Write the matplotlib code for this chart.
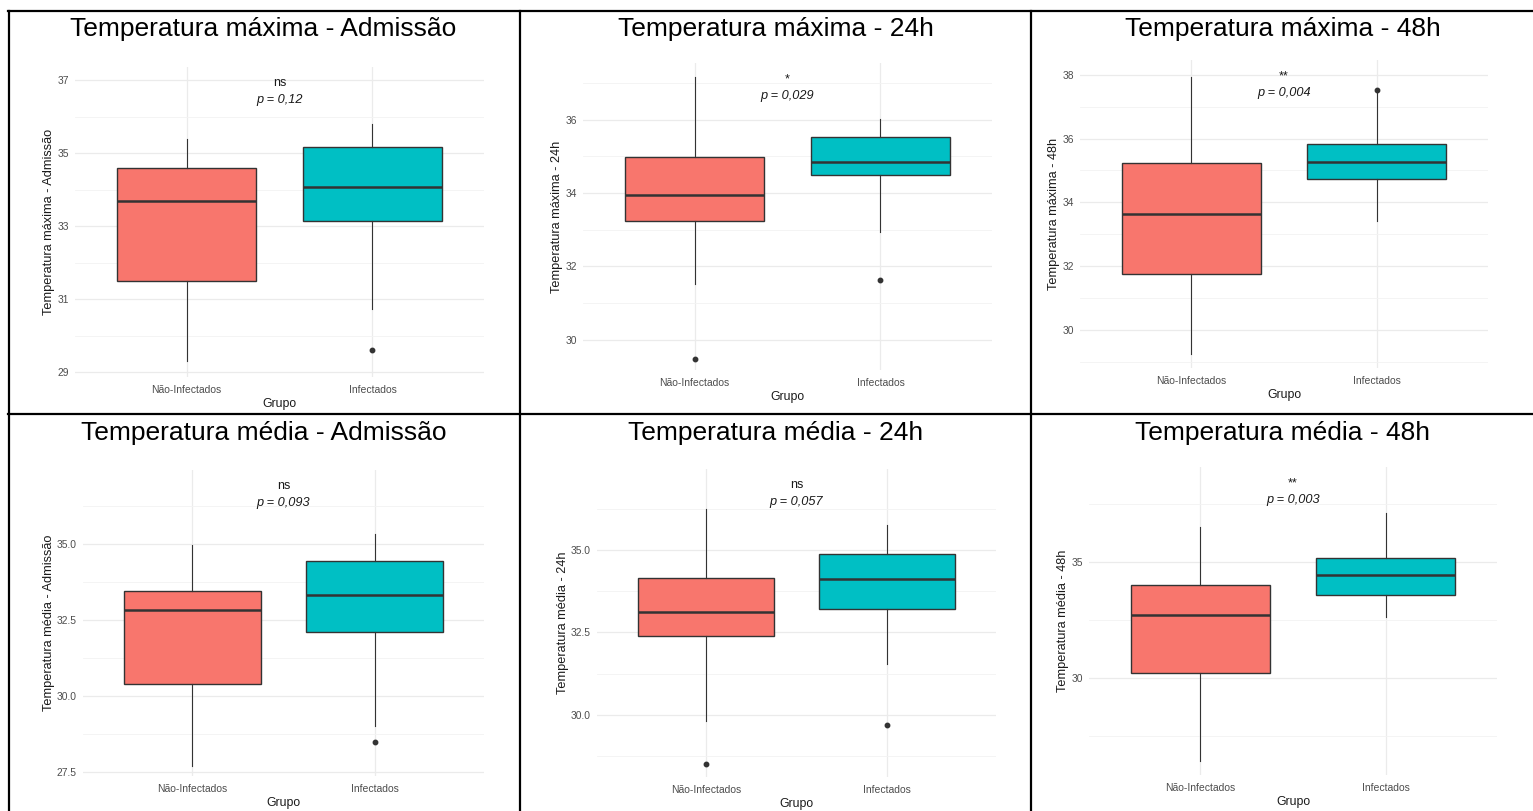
#!/usr/bin/env python3
"""
Grid of six boxplots: maximum and mean temperature at admission, 24h and 48h,
non-infected vs infected, laid out like a bordered table (ggplot-minimal look).
"""

import matplotlib
matplotlib.use("Agg")
import matplotlib.pyplot as plt
from matplotlib.lines import Line2D
from matplotlib.ticker import AutoMinorLocator

plt.rcParams["font.family"] = ["Liberation Sans", "DejaVu Sans"]

# ---- data ------------------------------------------------------------------
titles = [
    "Temperatura máxima - Admissão",
    "Temperatura máxima - 24h",
    "Temperatura máxima - 48h",
    "Temperatura média - Admissão",
    "Temperatura média - 24h",
    "Temperatura média - 48h",
]
groups = ["Não-Infectados", "Infectados"]
signif = ["ns", "*", "**", "ns", "ns", "**"]
pvals = ["p = 0,12", "p = 0,029", "p = 0,004", "p = 0,093", "p = 0,057", "p = 0,003"]

nao_low = [29.3, 31.52, 29.24, 27.71, 29.82, 26.44]
nao_q1 = [31.5, 33.23, 31.77, 30.41, 32.40, 30.23]
nao_med = [33.7, 33.95, 33.64, 32.85, 33.12, 32.73]
nao_q3 = [34.6, 34.98, 35.23, 33.47, 34.16, 34.03]
nao_high = [35.4, 37.16, 37.92, 34.97, 36.24, 36.51]
nao_out = [[], [29.49], [], [], [28.50], []]

inf_low = [30.72, 32.94, 33.43, 29.04, 31.53, 32.63]
inf_q1 = [33.15, 34.49, 34.72, 32.13, 33.20, 33.56]
inf_med = [34.08, 34.85, 35.25, 33.34, 34.13, 34.42]
inf_q3 = [35.18, 35.53, 35.82, 34.47, 34.87, 35.17]
inf_high = [35.80, 36.02, 37.44, 35.36, 35.74, 37.10]
inf_out = [[29.61], [31.62], [37.52], [28.51], [29.70], []]

yticks = [
    [29, 31, 33, 35, 37],
    [30, 32, 34, 36],
    [30, 32, 34, 36, 38],
    [27.5, 30.0, 32.5, 35.0],
    [30.0, 32.5, 35.0],
    [30, 35],
]
ylims = [
    (28.87, 37.36),
    (29.18, 37.54),
    (28.81, 38.46),
    (27.38, 37.45),
    (28.12, 37.45),
    (25.83, 39.09),
]

# ---- layout (pixels) --------------------------------------------------------
W, H = 1533, 811
axes_px = [  # left, top, right, bottom
    (75, 67, 484, 377),
    (583, 63, 992, 370),
    (1080, 60, 1488, 368),
    (83, 470, 484, 776),
    (597, 469, 996, 777),
    (1089, 467, 1497, 775),
]
cell_centers = [263.5, 775.5, 1282.5]
title_baselines = [36, 440]

fill_colors = ["#F8766D", "#00BFC4"]
edge = "#333333"
tick_grey = "#4D4D4D"


def px_rect(l, t, r, b):
    return [l / W, 1 - b / H, (r - l) / W, (b - t) / H]


def main():
    fig = plt.figure(figsize=(W / 100, H / 100), dpi=100, facecolor="white")

    for i in range(6):
        ax = fig.add_axes(px_rect(*axes_px[i]))
        stats = [
            dict(whislo=nao_low[i], q1=nao_q1[i], med=nao_med[i], q3=nao_q3[i],
                 whishi=nao_high[i], fliers=nao_out[i]),
            dict(whislo=inf_low[i], q1=inf_q1[i], med=inf_med[i], q3=inf_q3[i],
                 whishi=inf_high[i], fliers=inf_out[i]),
        ]
        bp = ax.bxp(
            stats,
            positions=[1, 2],
            widths=0.75,
            patch_artist=True,
            showcaps=False,
            boxprops=dict(edgecolor=edge, linewidth=1.0),
            medianprops=dict(color=edge, linewidth=1.8),
            whiskerprops=dict(color=edge, linewidth=0.8),
            flierprops=dict(marker="o", markersize=3.2, markerfacecolor=edge,
                            markeredgecolor=edge),
            zorder=3,
        )
        for patch, c in zip(bp["boxes"], fill_colors):
            patch.set_facecolor(c)

        ax.set_xlim(0.4, 2.6)
        ax.set_ylim(*ylims[i])
        ax.set_xticks([1, 2])
        ax.set_xticklabels(groups)
        ticks = yticks[i]
        fmt = "{:.1f}" if any(t % 1 for t in ticks) else "{:.0f}"
        ax.set_yticks(ticks)
        ax.set_yticklabels([fmt.format(t) for t in ticks])
        ax.yaxis.set_minor_locator(AutoMinorLocator(2))

        ax.grid(which="major", color="#EBEBEB", linewidth=0.9, zorder=0)
        ax.grid(which="minor", axis="y", color="#F3F3F3", linewidth=0.6, zorder=0)
        ax.set_axisbelow(True)
        for s in ax.spines.values():
            s.set_visible(False)
        ax.tick_params(which="both", length=0)
        ax.tick_params(axis="y", labelsize=7.4, colors=tick_grey, pad=4.5)
        ax.tick_params(axis="x", labelsize=7.5, colors=tick_grey, pad=5.5)

        ax.set_xlabel("Grupo", fontsize=8.8, color="#1a1a1a", labelpad=2.5)
        ax.set_ylabel(titles[i], fontsize=9.2, color="#1a1a1a", labelpad=1.5)

        ax.text(1.5, 0.948, signif[i], transform=ax.get_xaxis_transform(),
                ha="center", va="center", fontsize=9, color="#1a1a1a")
        ax.text(1.5, 0.893, pvals[i], transform=ax.get_xaxis_transform(),
                ha="center", va="center", fontsize=9.2, style="italic",
                color="#1a1a1a")

        fig.text(cell_centers[i % 3] / W, 1 - title_baselines[i // 3] / H, titles[i],
                 ha="center", va="baseline", fontsize=19, color="black")

    # table borders
    def hline(y, x0, x1):
        fig.add_artist(Line2D([x0 / W, x1 / W], [1 - y / H, 1 - y / H],
                              transform=fig.transFigure, color="black", linewidth=1.6))

    def vline(x, y0, y1):
        fig.add_artist(Line2D([x / W, x / W], [1 - y0 / H, 1 - y1 / H],
                              transform=fig.transFigure, color="black", linewidth=1.6))

    hline(11, 7.5, W)
    hline(413.5, 7.5, W)
    vline(8.5, 10.5, H)
    vline(520, 10.5, H)
    vline(1031, 10.5, H)

    fig.savefig("out.png", dpi=100, facecolor="white")


if __name__ == "__main__":
    main()
